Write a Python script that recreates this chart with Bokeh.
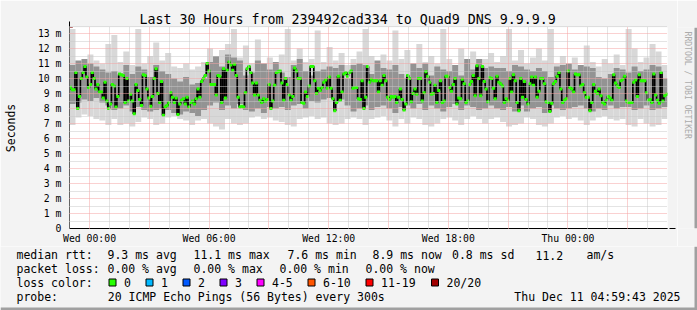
from datetime import datetime, timedelta
from bokeh.plotting import figure
from bokeh.layouts import column, row
from bokeh.models import (FixedTicker, Grid, Arrow, NormalHead, ColumnDataSource, Range1d,
                          DatetimeTickFormatter)
from bokeh.core.properties import value
from bokeh.embed import file_html
from bokeh.resources import INLINE

EPOCH = datetime(1970, 1, 1)
def ms(d):
    return (d - EPOCH).total_seconds() * 1000.0

t_end = datetime(2025, 12, 11, 4, 59, 43)
t_start = t_end - timedelta(hours=30)

# ---------------- data (milliseconds) ----------------
median_ms = [
    9.42, 9.25, 9.25, 10.4, 8.0, 8.8, 10.0, 10.4, 10.8, 10.1, 9.4, 9.6, 10.4, 10.0, 9.3, 9.6,
    9.1, 9.1, 8.7, 9.75, 8.5, 8.0, 8.3, 9.6, 9.5, 8.1, 8.8, 10.3, 10.25, 10.2, 8.4, 10.0,
    8.5, 8.95, 8.5, 7.65, 9.6, 9.2, 8.6, 8.2, 10.25, 10.2, 9.3, 8.7, 8.15, 8.8, 10.0, 10.65,
    9.0, 8.4, 9.8, 7.55, 8.1, 8.2, 8.4, 9.05, 8.75, 8.4, 8.7, 7.6, 8.3, 8.55, 8.65, 8.3,
    8.75, 8.1, 8.4, 8.5, 8.3, 8.65, 9.3, 8.75, 9.8, 10.0, 10.2, 11.0, 10.5, 9.6, 9.6, 9.6,
    8.9, 10.2,
    10.15, 8.4, 10.65, 8.7, 10.55, 11.1, 10.9, 10.55, 10.95, 10.2, 8.75, 8.1, 8.15, 8.1, 9.05,
    10.65, 10.8, 10.4, 9.7, 8.9, 9.7, 8.9, 8.55, 8.4, 8.65, 8.5, 8.6, 9.6, 8.0, 8.5, 9.55,
    10.4, 10.45, 10.5, 9.7, 8.55, 10.0, 9.6, 8.9, 8.55, 8.8, 10.7, 10.5, 10.0, 10.0, 8.4,
    8.35, 9.1, 8.8, 9.5, 10.8, 10.8, 9.85, 9.0, 9.35, 9.2, 9.4, 9.75, 9.9, 9.35, 10.1, 9.35,
    8.65, 7.85, 8.4, 10.15, 8.55, 9.1, 10.3, 10.4, 10.15, 10.4, 10.5, 9.35, 9.4, 9.4, 8.65,
    8.6, 9.85, 8.0, 8.75, 10.8, 9.75, 9.95, 9.85, 9.85, 9.85, 9.1, 9.85, 9.55, 10.2, 9.85,
    8.75, 8.6, 8.8, 8.75, 8.8, 8.4, 8.75, 9.3, 8.6, 7.9, 8.3, 10.2, 10.0, 8.45, 9.0, 9.3,
    8.95, 10.0, 10.0, 8.5, 9.05, 10.45, 10.15, 9.75, 8.95, 9.0, 9.55, 8.4, 9.2, 9.85, 8.4,
    8.5, 10.15, 10.15, 9.4, 9.15, 9.6, 10.0, 8.3, 8.7, 8.65, 9.95, 9.65, 8.4, 8.5, 9.6, 9.8,
    10.2, 8.85, 10.85, 10.0, 8.85, 10.8, 9.8, 9.3, 8.45, 10.05, 10.0, 9.35, 8.65, 10.15,
    9.75, 9.65, 9.5, 8.4, 8.65, 8.5, 10.0, 9.1, 10.25,
    9.85, 8.4, 7.85, 10.0, 8.75, 9.8, 8.6, 8.3, 9.65, 10.1, 9.55, 10.1, 8.75, 9.15, 10.0,
    10.0, 9.65, 8.45, 8.4, 7.8, 8.35, 9.65, 9.8, 10.15, 10.4, 9.3, 8.4, 8.55, 8.65, 10.5,
    9.4, 9.3, 9.1, 10.3, 10.25, 10.25, 9.5, 9.6, 9.05, 8.75, 8.75, 7.85, 8.4, 9.6, 9.15,
    9.0, 9.3, 8.85, 8.4, 8.3, 8.55, 8.8, 8.7, 8.55, 10.25, 9.7, 9.5, 9.4, 9.85, 9.95, 10.15,
    8.5, 8.4, 8.4, 8.4, 9.75, 9.9, 8.8, 10.25, 9.85, 9.85, 9.85, 9.05, 8.55, 8.6, 8.4, 10.3,
    8.9, 8.55, 8.35, 10.4, 8.5, 8.85, 8.95,
]

smoke_max = [
    13.3, 11.0, 10.9, 11.6, 11.2, 11.0, 12.3, 12.9, 11.1, 11.8, 10.9, 13.3, 11.0, 11.5, 12.4,
    11.2, 11.7, 10.8, 10.7, 11.0, 10.6, 10.8, 11.1, 12.0, 11.3, 11.9, 12.3, 13.3, 11.4, 12.2,
    11.0, 12.6, 11.0, 11.4, 10.9, 11.6, 13.3, 11.2, 12.0, 11.1, 11.3, 13.2, 11.1, 12.1, 11.2,
    11.7, 10.9, 11.3, 11.8, 13.3, 11.5, 10.9, 11.6, 11.2, 13.2, 11.3, 11.9, 11.0, 12.3, 11.1,
    11.5, 11.0, 13.3, 11.3, 10.9, 12.0, 11.1, 11.8, 10.9, 11.3, 11.7, 11.1, 11.5, 13.3, 11.2,
    11.9, 11.0, 11.4, 12.0, 11.2, 13.3, 11.0, 11.5, 10.9, 11.4, 10.8, 12.2, 11.1, 10.8, 11.3,
    11.0, 11.6, 10.9, 13.3, 12.0, 11.1, 11.4, 12.3, 11.8, 10.9,
]
smoke_hi = [
    10.9, 11.2, 11.3, 11.0, 10.8, 10.6, 10.4, 10.5, 10.2, 10.9, 10.3, 10.8, 10.6, 10.1, 10.9,
    10.5, 10.3, 10.0, 9.8, 10.1, 9.6, 9.7, 10.0, 11.1, 11.5, 10.8, 11.6, 11.4, 11.2, 10.2,
    10.4, 11.2, 11.0, 10.6, 11.1, 10.4, 10.1, 10.9, 11.3, 10.5, 10.2, 10.5, 10.6, 10.8, 10.7,
    10.9, 10.0, 10.9, 11.0, 10.9, 10.3, 11.2, 10.7, 10.6, 10.9, 10.3, 10.0, 11.0, 10.7, 11.0,
    10.2, 10.8, 10.6, 10.5, 10.9, 10.2, 11.3, 10.6, 11.3, 10.7, 10.8, 10.7, 10.7, 10.5, 10.9,
    10.8, 10.6, 10.5, 10.7, 10.5, 10.1, 10.8, 10.9, 11.0, 10.6, 10.9, 10.8, 10.7, 10.1, 10.0,
    10.3, 10.7, 10.6, 10.4, 10.8, 10.5, 10.6, 10.9, 10.8, 10.0,
]
smoke_lo = [
    8.3, 8.4, 8.6, 8.5, 8.7, 8.4, 8.2, 7.9, 8.0, 8.2, 7.8, 8.1, 7.9, 7.8, 7.9, 8.0, 7.9, 7.7,
    7.6, 7.8, 7.7, 7.5, 7.9, 8.2, 8.4, 7.9, 8.2, 8.0, 8.3, 7.9, 7.8, 8.0, 7.7, 8.1, 8.0, 8.1,
    7.9, 8.2, 8.3, 8.0, 8.5, 8.4, 8.6, 8.7, 8.5, 8.6, 8.2, 7.8, 8.0, 8.2, 7.9, 8.1, 8.2, 8.0,
    7.7, 8.1, 8.2, 8.0, 8.3, 7.9, 8.2, 8.0, 7.8, 8.1, 8.3, 7.9, 8.2, 8.1, 7.9, 8.0, 8.2, 8.0,
    7.9, 8.1, 7.8, 8.2, 7.8, 8.0, 8.1, 7.7, 8.2, 8.0, 7.9, 8.0, 8.1, 8.2, 8.0, 7.8, 8.0, 7.9,
    8.2, 8.0, 8.1, 8.1, 7.9, 8.0, 8.2, 7.9, 8.0, 8.1,
]
smoke_min = [
    6.9, 7.4, 7.6, 7.5, 7.3, 7.2, 6.9, 7.3, 6.9, 7.0, 6.8, 7.1, 7.4, 7.3, 6.9, 7.0, 7.4, 7.5,
    7.3, 7.2, 6.9, 7.2, 7.3, 7.0, 6.8, 6.6, 7.3, 7.0, 6.9, 7.0, 7.4, 7.5, 7.3, 7.4, 7.2, 7.1,
    6.9, 6.8, 7.3, 7.4, 7.5, 7.3, 7.4, 7.0, 6.9, 7.0, 7.3, 7.4, 7.3, 6.9, 7.3, 7.4, 7.5, 7.2,
    6.8, 7.3, 7.0, 7.4, 7.3, 6.9, 6.8, 7.0, 7.3, 7.4, 7.2, 6.9, 7.3, 7.5, 7.3, 7.0, 7.3, 7.4,
    7.1, 6.8, 6.9, 7.0, 7.4, 7.3, 6.9, 6.8, 7.0, 7.4, 7.5, 7.3, 7.4, 7.2, 6.9, 7.2, 7.4, 7.5,
    7.3, 7.2, 7.3, 6.9, 6.8, 7.3, 7.0, 6.8, 6.9, 7.3,
]

y_tick_values = list(range(0, 14))
y_tick_labels = ["0"] + ["%d m" % v for v in range(1, 14)]
x_tick_times = [datetime(2025, 12, 10, 0), datetime(2025, 12, 10, 6), datetime(2025, 12, 10, 12),
                datetime(2025, 12, 10, 18), datetime(2025, 12, 11, 0)]

title_text = "Last 30 Hours from 239492cad334 to Quad9 DNS 9.9.9.9"
loss_labels = ["0", "1", "2", "3", "4-5", "6-10", "11-19", "20/20"]
loss_colors = ["#26ff00", "#00b8ff", "#0059ff", "#7e00ff", "#ff00ff", "#ff5500", "#ff0000", "#a10000"]
legend_row1 = ["median rtt:", "9.3 ms avg", "11.1 ms max", "7.6 ms min", "8.9 ms now", "0.8 ms sd",
               "11.2", "am/s"]
legend_row2 = ["packet loss:", "0.00 % avg", "0.00 % max", "0.00 % min", "0.00 % now"]
probe_text = "20 ICMP Echo Pings (56 Bytes) every 300s"
stamp_text = "Thu Dec 11 04:59:43 2025"

BG = "#F3F3F3"
SHADE = "#A0A0A0"
MONO = "DejaVu Sans Mono"

# ---------------- main chart ----------------
x0, x1 = ms(t_start), ms(t_end)
span = x1 - x0
n = len(median_ms)
med_x = [x0 + (i + 0.5) * span / n for i in range(n)]
nb = len(smoke_max)
bw = span / nb
bl = [x0 + k * bw for k in range(nb)]
br = [x0 + (k + 1) * bw for k in range(nb)]

MW, MH = 677, 246
FL, FT, FR, FB = 67, 27, 667, 228
p = figure(width=MW, height=MH, output_backend="svg", toolbar_location=None,
           x_range=Range1d(x0, x1), y_range=Range1d(0, 13.4),
           min_border_left=FL, min_border_right=MW - FR, min_border_top=FT,
           min_border_bottom=MH - FB)
p.border_fill_color = BG
p.background_fill_color = "#FFFFFF"
p.outline_line_color = None
p.grid.visible = False

p.title.text = title_text
p.title.align = "left"
p.title.offset = 137 - FL
p.title.text_font = MONO
p.title.text_font_size = "13.3px"
p.title.text_font_style = "normal"
p.title.text_color = "#000000"
p.title.standoff = 2

smoke = ColumnDataSource(dict(l=bl, r=br, mx=smoke_max, hi=smoke_hi, lo=smoke_lo, mn=smoke_min))
p.quad(left="l", right="r", bottom="mn", top="mx", source=smoke, fill_color="#D8D8D8", line_color=None)
p.quad(left="l", right="r", bottom="lo", top="hi", source=smoke, fill_color="#939393", line_color=None)

msrc = ColumnDataSource(dict(x=med_x, y=median_ms))
p.step(x="x", y="y", source=msrc, mode="center", line_color="#000000", line_width=1.7)
p.scatter(x="x", y="y", source=msrc, marker="square", size=3, fill_color="#26ff00", line_color=None)

hour_ticks = [x0 + (k * 3600 - (t_start.minute * 60 + t_start.second)) * 1000 + 3600000 for k in range(31)]
hour_ticks = [t for t in hour_ticks if x0 < t < x1]
three_ticks = [t for t in hour_ticks if round((t / 3600000.0)) % 3 == 0]
minor_v = [t for t in hour_ticks if t not in three_ticks]
for tk, col in ((minor_v, "#C8C8C8"), (three_ticks, "#F4A2A2")):
    p.add_layout(Grid(dimension=0, ticker=FixedTicker(ticks=tk), grid_line_color=col,
                      grid_line_dash="1 1", level="overlay"))
for tk, col in (([v + 0.5 for v in range(0, 14)], "#C8C8C8"), (list(range(1, 14)), "#F4A2A2")):
    p.add_layout(Grid(dimension=1, ticker=FixedTicker(ticks=tk), grid_line_color=col,
                      grid_line_dash="1 1", level="overlay"))

xa = p.xaxis[0]
xa.ticker = FixedTicker(ticks=[ms(t) for t in x_tick_times])
xa.formatter = DatetimeTickFormatter(hours="%a %H:%M", days="%a %H:%M", hourmin="%a %H:%M",
                                     minutes="%a %H:%M", months="%a %H:%M", years="%a %H:%M")
ya = p.yaxis[0]
ya.ticker = FixedTicker(ticks=y_tick_values)
ya.major_label_overrides = {v: s for v, s in zip(y_tick_values, y_tick_labels)}
for ax in (xa, ya):
    ax.axis_line_color = "#000000"
    ax.major_tick_out = 0
    ax.major_tick_in = 0
    ax.minor_tick_out = 0
    ax.minor_tick_in = 0
    ax.major_label_text_font = MONO
    ax.major_label_text_font_size = "9.8px"
    ax.major_label_text_color = "#000000"
xa.major_label_standoff = 4
ya.major_label_standoff = 8
ya.axis_label = "Seconds"
ya.axis_label_text_font = MONO
ya.axis_label_text_font_size = "11.5px"
ya.axis_label_text_font_style = "normal"
ya.axis_label_text_color = "#000000"
ya.axis_label_standoff = 17

p.add_layout(Arrow(x_start=-5, y_start=0, x_end=606, y_end=0, start_units="screen", end_units="screen",
                   line_color="#000000", line_width=1,
                   end=NormalHead(size=6, fill_color="#8B1A1A", line_color="#8B1A1A")))
p.add_layout(Arrow(x_start=0, y_start=-4, x_end=0, y_end=FB - 21, start_units="screen", end_units="screen",
                   line_color="#000000", line_width=1,
                   end=NormalHead(size=6, fill_color="#8B1A1A", line_color="#8B1A1A")))

# ---------------- right margin (credit) ----------------
pr = figure(width=697 - MW, height=MH, output_backend="svg", toolbar_location=None,
            x_range=Range1d(MW, 697), y_range=Range1d(MH, 0), min_border=0,
            x_axis_location=None, y_axis_location=None)
pr.border_fill_color = BG
pr.background_fill_color = BG
pr.outline_line_color = None
pr.grid.visible = False
pr.text(x=[687.5], y=[5], text=["RRDTOOL / TOBI OETIKER"], angle=-1.5708,
        text_font=value(MONO), text_font_size=value("8.1px"), text_color="#ABABAB",
        text_align="left", text_baseline="middle")
pr.quad(left=[694], right=[697], top=[0], bottom=[MH], fill_color=SHADE, line_color=None)

# ---------------- legend block ----------------
LH = 310 - MH
pl = figure(width=697, height=LH, output_backend="svg", toolbar_location=None,
            x_range=Range1d(0, 697), y_range=Range1d(310, MH), min_border=0,
            x_axis_location=None, y_axis_location=None)
pl.border_fill_color = BG
pl.background_fill_color = BG
pl.outline_line_color = None
pl.grid.visible = False

r1, r2, r3, r4 = 254.5, 268, 282, 296
tx, ty, tt, ta = [], [], [], []
for x, s in zip([16, 107, 193, 287, 372, 451.5, 535, 586], legend_row1):
    tx.append(x); ty.append(r1); tt.append(s); ta.append("left")
for x, s in zip([16, 107, 193, 279, 365], legend_row2):
    tx.append(x); ty.append(r2); tt.append(s); ta.append("left")
tx.append(16); ty.append(r3); tt.append("loss color:"); ta.append("left")
box_x = [108.5, 145.5, 182.5, 219.5, 256.5, 307.5, 365.5, 431]
for bx, lab in zip(box_x, loss_labels):
    tx.append(bx + 15); ty.append(r3); tt.append(lab); ta.append("left")
tx += [16, 107.3, 680]; ty += [r4, r4, r4]; tt += ["probe:", probe_text, stamp_text]
ta += ["left", "left", "right"]
pl.text(x="x", y="y", text="t", text_align="a",
        source=ColumnDataSource(dict(x=tx, y=ty, t=tt, a=ta)),
        text_font=value(MONO), text_font_size=value("11.5px"), text_color="#000000",
        text_baseline="middle")
pl.quad(left=box_x, right=[b + 7 for b in box_x], top=[278.5] * 8, bottom=[285.5] * 8,
        fill_color=loss_colors, line_color="#000000", line_width=1)
pl.quad(left=[694, 0], right=[697, 697], top=[MH, 307], bottom=[310, 310], fill_color=SHADE, line_color=None)

layout = column(row(p, pr), pl)
open("out.html", "w").write(file_html(layout, INLINE))
